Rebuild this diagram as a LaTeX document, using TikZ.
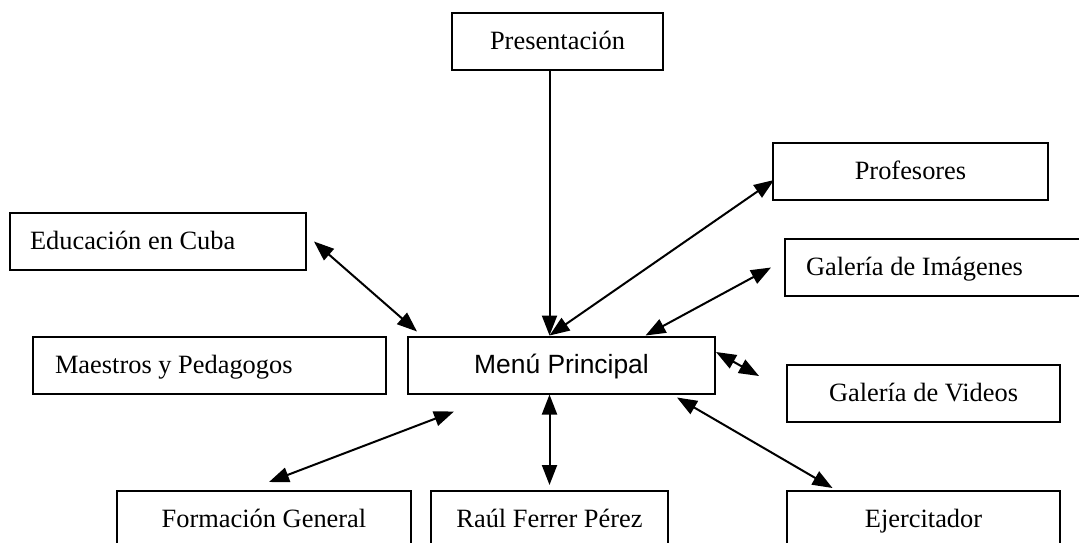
\documentclass[tikz,border=0pt]{standalone}
\usepackage{fontspec}
\setmainfont{Liberation Serif}
\setsansfont{Liberation Sans}
\usetikzlibrary{arrows.meta,calc}

\begin{document}
\begin{tikzpicture}[x=0.5pt,y=-0.5pt,
  box/.style={draw,line width=1pt,minimum height=28.5pt,inner sep=0pt,
    text height=10pt,text depth=2pt,font=\fontsize{13.2}{15}\selectfont},
  lbox/.style={box,align=flush left},
  link/.style={line width=1pt,{Triangle[length=10pt,width=7.5pt]}-{Triangle[length=10pt,width=7.5pt]}},
  tolink/.style={line width=1pt,-{Triangle[length=10pt,width=7.5pt]}}]
\fill[white] (0,0) rectangle (1079,542);
\useasboundingbox (0,0) rectangle (1079,542);

% boxes
\node[box,minimum width=105.5pt] (pres) at (557.5,41.5) {Presentación};
\node[box,minimum width=137.5pt] (prof) at (910.5,171) {Profesores};
\node[lbox,text width=131.5pt,inner xsep=10.5pt] (galimg) at (937.5,267.5) {Galería de Imágenes};
\node[lbox,text width=128pt,inner xsep=10pt] (educ) at (158,241.5) {Educación en Cuba};
\node[lbox,text width=154.5pt,inner xsep=11pt] (maes) at (209.5,365) {Maestros y Pedagogos};
\node[box,minimum width=153.5pt,font=\sffamily\fontsize{13.2}{15}\selectfont] (menu) at (561.5,365) {Menú Principal};
\node[box,minimum width=136.5pt] (galvid) at (923.5,393.5) {Galería de Videos};
\node[box,minimum width=147pt] (form) at (264,519.5) {Formación General};
\node[box,minimum width=118.5pt] (raul) at (549.5,519.5) {Raúl Ferrer Pérez};
\node[box,minimum width=136.5pt] (ejer) at (923.5,519.5) {Ejercitador};

% arrows
\coordinate (mtop) at (menu.north -| raul.north);
\draw[tolink] (pres.south -| raul.north) -- (mtop);
\draw[link] (mtop) -- ($(prof.west)+(2,9)$);
\draw[link] ($(menu.north)+(84,0)$) -- ($(galimg.west)+(-13,0)$);
\draw[link] ($(educ.east)+(7,0)$) -- ($(menu.north west)+(10,-4)$);
\draw[link] ($(menu.east)+(0,-13)$) -- ($(galvid.west)+(-27,-17.5)$);
\draw[link] ($(menu.south west)+(47,17)$) -- ($(form.north)+(5,-8)$);
\draw[link] (menu.south -| raul.north) -- ($(raul.north)+(0,-5)$);
\draw[link] ($(menu.south east)+(-39,3)$) -- ($(ejer.north)+(-91,-2)$);
\end{tikzpicture}
\end{document}
